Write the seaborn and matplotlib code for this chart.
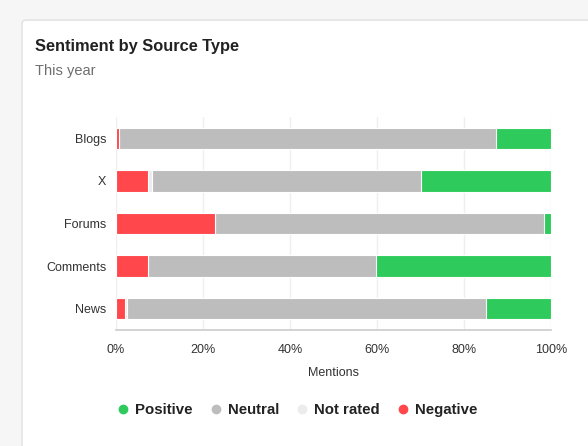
import matplotlib
matplotlib.use("Agg")
import matplotlib.pyplot as plt
from matplotlib.patches import FancyBboxPatch
from matplotlib.lines import Line2D
import numpy as np
import pandas as pd
import seaborn as sns

sources = ["Blogs", "X", "Forums", "Comments", "News"]
negative = [0.7, 7.4, 22.8, 7.4, 2.0]
not_rated = [0.0, 0.8, 0.0, 0.0, 0.5]
neutral = [86.7, 61.9, 75.6, 52.4, 82.5]
positive = [12.6, 29.9, 1.6, 40.2, 15.0]
ticks = [0, 20, 40, 60, 80, 100]
tick_labels = ["0%", "20%", "40%", "60%", "80%", "100%"]

series = ["Negative", "Not rated", "Neutral", "Positive"]
colors = {"Positive": "#2ecb5c", "Neutral": "#bdbdbd",
          "Not rated": "#ececec", "Negative": "#ff474c"}

df = pd.DataFrame({"source": sources, "Negative": negative,
                   "Not rated": not_rated, "Neutral": neutral,
                   "Positive": positive})
cum = df[series].cumsum(axis=1)
cum["source"] = df["source"]

sns.set_theme(style="white")
plt.rcParams["font.family"] = ["Liberation Sans", "DejaVu Sans"]

fig = plt.figure(figsize=(5.88, 4.46), dpi=100)
fig.patch.set_facecolor("#f6f6f6")

card = FancyBboxPatch((22 / 588, -0.1), 1.2, 0.955 + 0.1,
                      boxstyle="round,pad=0,rounding_size=0.008",
                      transform=fig.transFigure, facecolor="white",
                      edgecolor="#e4e4e4", linewidth=1.2, zorder=-10)
fig.patches.append(card)

ax = fig.add_axes([116 / 588, 1 - 330 / 446, 435 / 588, 213 / 446])
ax.set_facecolor("none")
ax.set_zorder(2)

# stacked bars: draw cumulative totals from the right-most segment backwards
for name in reversed(series):
    sns.barplot(data=cum, x=name, y="source", order=sources, orient="h",
                color=colors[name], width=0.5, edgecolor="white",
                linewidth=0.8, saturation=1, ax=ax, zorder=3)

ax.set_xlim(0, 100)
ax.set_ylim(4.5, -0.5)
ax.set_xticks(ticks)
ax.set_xticklabels(tick_labels)
ax.grid(axis="x", color="#efefef", linewidth=1, zorder=0)
ax.set_axisbelow(True)
for s in ["top", "right", "left"]:
    ax.spines[s].set_visible(False)
ax.spines["bottom"].set_color("#cccccc")
ax.spines["bottom"].set_linewidth(1.2)
ax.tick_params(axis="x", length=0, pad=10, labelsize=9, labelcolor="#333333")
ax.tick_params(axis="y", length=0, pad=7, labelsize=9, labelcolor="#333333")
ax.set_ylabel("")
ax.set_xlabel("Mentions", fontsize=9, color="#333333", labelpad=8)

fig.text(35 / 588, 1 - 46 / 446, "Sentiment by Source Type", fontsize=11.8,
         fontweight="bold", color="#222222", va="center", ha="left")
fig.text(35 / 588, 1 - 71 / 446, "This year", fontsize=10.5,
         color="#6e6e6e", va="center", ha="left")

legend_order = ["Positive", "Neutral", "Not rated", "Negative"]
handles = [Line2D([0], [0], marker="o", linestyle="none", markersize=6,
                  markerfacecolor=colors[n], markeredgecolor=colors[n])
           for n in legend_order]
leg = fig.legend(handles, legend_order, loc="center",
                 bbox_to_anchor=(295 / 588, 1 - 410 / 446), ncol=4,
                 frameon=False, handletextpad=0.1, columnspacing=0.85,
                 handlelength=1.4, prop={"weight": "bold", "size": 10.8})
for t in leg.get_texts():
    t.set_color("#222222")

fig.savefig("out.png", dpi=100, facecolor=fig.get_facecolor())
